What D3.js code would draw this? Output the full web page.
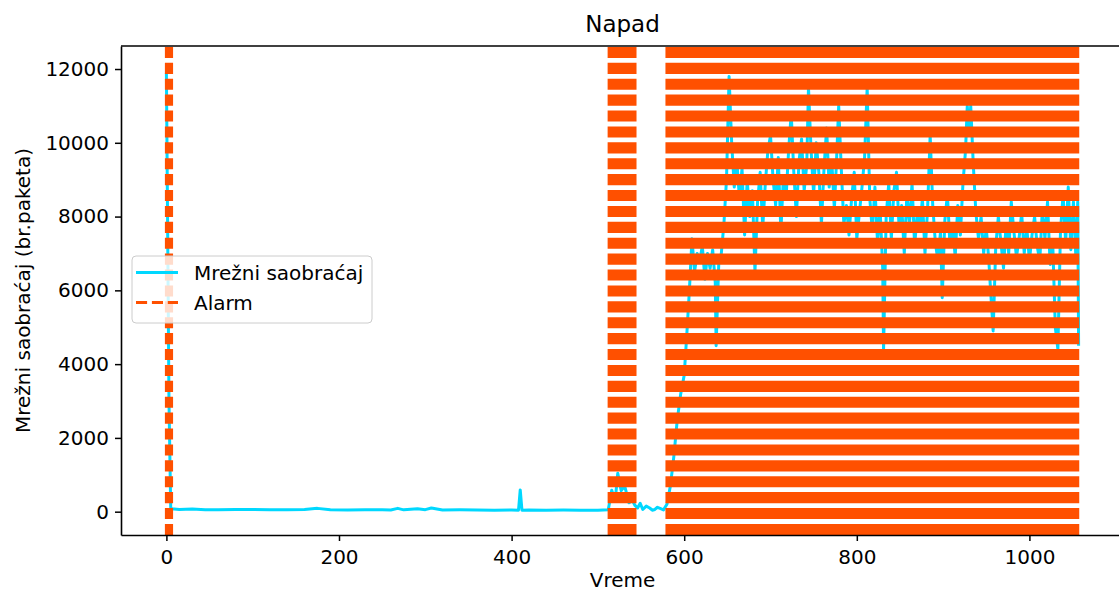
<!DOCTYPE html>
<html>
<head>
<meta charset="utf-8">
<script src="https://cdn.jsdelivr.net/npm/d3@7"></script>
<style>
  body { margin: 0; background: white; }
  svg text { font-family: "DejaVu Sans", sans-serif; fill: #000; }
</style>
</head>
<body>
<svg id="chart" width="1119" height="593"></svg>
<script>
let times = [0, 1, 3, 5, 6, 15, 30, 45, 60, 80, 100, 120, 140, 160, 175, 190, 210, 230, 250, 260,
  268, 275, 291, 300, 307, 320, 340, 360, 380, 400, 408, 410, 412, 420, 440, 460, 480, 500, 512,
  516, 520, 523, 527, 531, 536, 540, 543, 546, 549, 552, 556, 560, 563, 566, 569, 572, 576, 580,
  584, 588, 592, 596, 600, 603, 606, 609, 612, 615, 618, 621, 624, 627, 630, 633, 636, 637, 640,
  643, 646, 649, 652, 655, 658, 661, 664, 667, 670, 673, 676, 679, 682, 685, 688, 691, 694, 697,
  700, 703, 706, 709, 712, 715, 718, 721, 724, 727, 730, 733, 736, 739, 742, 744, 747, 750, 753,
  756, 759, 762, 765, 768, 771, 774, 777, 779, 782, 785, 788, 791, 794, 797, 800, 803, 806, 809,
  812, 815, 818, 821, 824, 827, 830, 831, 834, 837, 840, 843, 846, 849, 852, 855, 858, 861, 864,
  867, 870, 873, 876, 879, 882, 885, 888, 891, 894, 897, 899, 902, 905, 908, 911, 914, 917, 920,
  923, 926, 928, 930, 932, 935, 938, 941, 944, 947, 950, 953, 955, 958, 961, 964, 967, 970, 973,
  976, 979, 982, 985, 988, 991, 994, 997, 1000, 1003, 1006, 1009, 1012, 1015, 1018, 1021, 1024,
  1027, 1030, 1033, 1036, 1039, 1042, 1045, 1048, 1051, 1054, 1056, 1057];

let traffic = [11900, 9000, 3000, 120, 80, 60, 70, 50, 55, 60, 60, 55, 50, 60, 90, 50, 45, 50, 50, 45,
  90, 50, 80, 55, 100, 45, 50, 45, 40, 45, 40, 590, 40, 45, 40, 45, 40, 40, 50,
  580, 300, 1040, 570, 700, 240, 300, 170, 100, 230, 60, 150, 100, 40, 60, 120, 90, 50, 200,
  700, 1500, 2500, 3200, 3700, 4800, 6000, 7400, 6500, 7000, 6800, 7200, 6300, 7000, 6600, 7100, 6200, 4500, 6700,
  7000, 7800, 9000, 11800, 10000, 8800, 9500, 8500, 9300, 7500, 9000, 8000, 8700, 6500, 8400, 9200, 7700, 8900, 9800,
  10200, 9000, 8300, 9600, 7600, 9100, 8500, 9800, 10800, 9200, 8000, 9500, 10100, 8700, 9400, 11500, 9800, 8600, 10000,
  9200, 7800, 9300, 10400, 8800, 9500, 8200, 9800, 11000, 9300, 7800, 8300, 7500, 8500, 9200, 7400, 8100, 8800, 9600,
  11500, 8500, 7600, 8800, 7300, 8200, 6600, 4400, 8000, 8900, 7400, 8700, 9200, 7700, 8300, 7000, 8600, 7800, 8900,
  7200, 8100, 7600, 8500, 7000, 8200, 10200, 8300, 7300, 6800, 7600, 5800, 7900, 8600, 7200, 7800, 6900, 8300, 7500,
  8900, 9800, 11000, 10200, 11000, 9400, 8100, 7400, 8000, 7000, 7700, 6800, 6000, 4900, 7200, 8000, 7300, 6600, 7800,
  7000, 8400, 7600, 6900, 7400, 8100, 7000, 7700, 6800, 7500, 8000, 7200, 6800, 8200, 7400, 8400, 6700,
  7300, 5000, 4400, 7600, 8600, 7300, 8800, 7100, 8400, 6800, 8400, 4500];

// alarm periods (first and last alarmed time step)
let alarmStart = [0, 513, 580];
let alarmEnd = [6, 543, 1056];

let xTicks = [0, 200, 400, 600, 800, 1000];
let yTicks = [0, 2000, 4000, 6000, 8000, 10000, 12000];

let series = times.map((t, i) => ({t: t, v: traffic[i]}));
let alarms = alarmStart.map((s, i) => ({s: s, e: alarmEnd[i]}));

let svg = d3.select("#chart");
let plotL = 121, plotR = 1124, plotT = 46, plotB = 535;

let x = d3.scaleLinear().domain([-52.6, 1109.6]).range([plotL, plotR]);
let y = d3.scaleLinear().domain([-632, 12624]).range([plotB, plotT]);

// traffic line
let line = d3.line().x(d => x(d.t)).y(d => y(d.v));
svg.append("path")
  .datum(series)
  .attr("d", line)
  .attr("fill", "none")
  .attr("stroke", "#00d8ff")
  .attr("stroke-width", 3)
  .attr("stroke-linejoin", "round");

// alarm lines, dashed, drawn on top
svg.selectAll("line.alarm").data(alarms).enter()
  .append("line")
  .attr("class", "alarm")
  .attr("x1", d => (x(d.s) + x(d.e)) / 2)
  .attr("x2", d => (x(d.s) + x(d.e)) / 2)
  .attr("y1", plotB)
  .attr("y2", plotT)
  .attr("stroke", "#ff5000")
  .attr("stroke-width", d => x(d.e) - x(d.s) + 3)
  .attr("stroke-dasharray", "11.1 4.8");

// axes
let fmt = d3.format("d");
let xAxis = svg.append("g")
  .attr("transform", `translate(0,${plotB})`)
  .call(d3.axisBottom(x).tickValues(xTicks).tickFormat(fmt).tickSize(6).tickPadding(6).tickSizeOuter(0));
let yAxis = svg.append("g")
  .attr("transform", `translate(${plotL},0)`)
  .call(d3.axisLeft(y).tickValues(yTicks).tickFormat(fmt).tickSize(6).tickPadding(6).tickSizeOuter(0));
[xAxis, yAxis].forEach(a => {
  a.selectAll("text").style("font-size", "20px").attr("fill", "#000");
  a.selectAll("line").attr("stroke", "#000").attr("stroke-width", 1.5);
  a.select(".domain").attr("stroke", "#000").attr("stroke-width", 1.6);
});
xAxis.selectAll("text").attr("dy", "0.85em");

// top spine
svg.append("line")
  .attr("x1", plotL).attr("x2", plotR)
  .attr("y1", plotT).attr("y2", plotT)
  .attr("stroke", "#000").attr("stroke-width", 1.6);

// titles
svg.append("text")
  .attr("x", (plotL + plotR) / 2).attr("y", 32)
  .attr("text-anchor", "middle")
  .style("font-size", "23px")
  .text("Napad");
svg.append("text")
  .attr("x", (plotL + plotR) / 2).attr("y", 587)
  .attr("text-anchor", "middle")
  .style("font-size", "20px")
  .text("Vreme");
svg.append("text")
  .attr("transform", `translate(30,${(plotT + plotB) / 2}) rotate(-90)`)
  .attr("text-anchor", "middle")
  .style("font-size", "20px")
  .text("Mrežni saobraćaj (br.paketa)");

// legend
let legend = svg.append("g");
legend.append("rect")
  .attr("x", 132).attr("y", 256)
  .attr("width", 240).attr("height", 67)
  .attr("rx", 4)
  .attr("fill", "white").attr("fill-opacity", 0.8)
  .attr("stroke", "#cccccc").attr("stroke-width", 1);
legend.append("line")
  .attr("x1", 136).attr("x2", 178).attr("y1", 272.5).attr("y2", 272.5)
  .attr("stroke", "#00d8ff").attr("stroke-width", 3);
legend.append("line")
  .attr("x1", 136).attr("x2", 178).attr("y1", 302.5).attr("y2", 302.5)
  .attr("stroke", "#ff5000").attr("stroke-width", 3)
  .attr("stroke-dasharray", "11.1 4.8");
legend.append("text")
  .attr("x", 194).attr("y", 272.5).attr("dy", "0.35em")
  .style("font-size", "20px")
  .text("Mrežni saobraćaj");
legend.append("text")
  .attr("x", 194).attr("y", 302.5).attr("dy", "0.35em")
  .style("font-size", "20px")
  .text("Alarm");
</script>
</body>
</html>
